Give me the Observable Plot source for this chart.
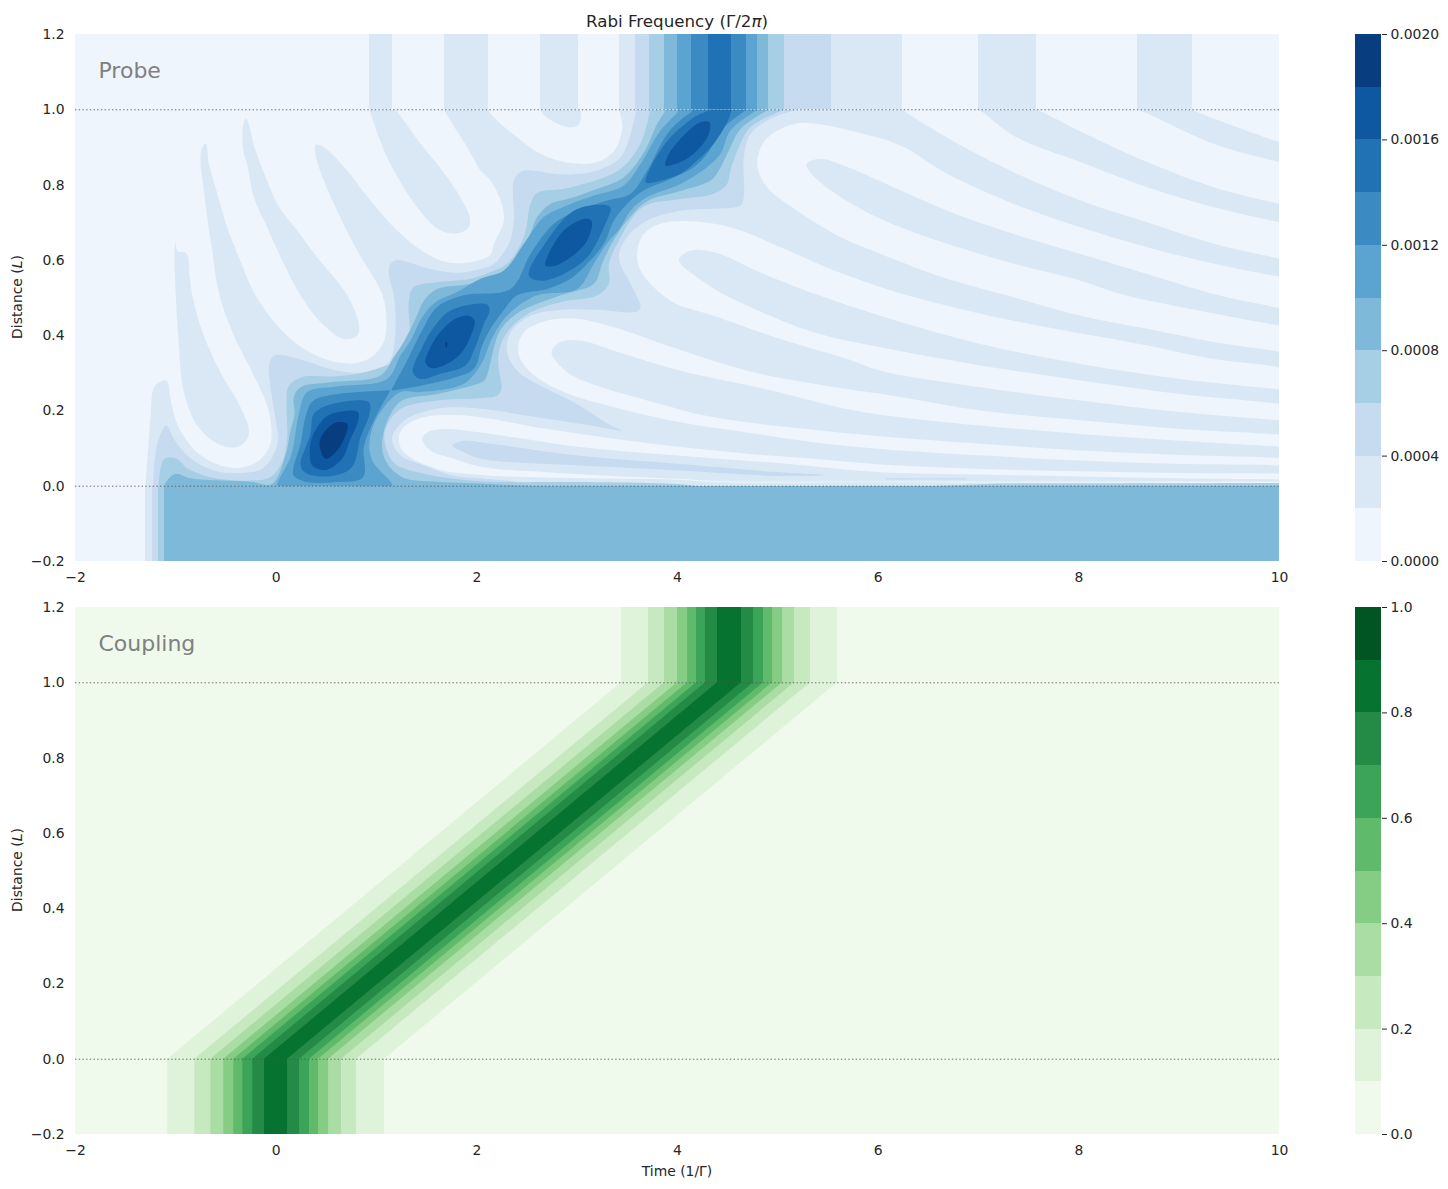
<!DOCTYPE html>
<html><head><meta charset="utf-8">
<script src="https://cdn.jsdelivr.net/npm/d3@7"></script>
<script src="https://cdn.jsdelivr.net/npm/@observablehq/plot@0.6"></script>
<style>
html,body{margin:0;padding:0;background:#fff;}
#fig{position:relative;width:1448px;height:1189px;overflow:hidden;font-family:"DejaVu Sans",sans-serif;color:#262626;}
#fig>div{position:absolute;}
.lab{white-space:nowrap;line-height:1;}
</style></head><body><div id="fig"></div>
<script>
const bluesBands=["#eef5fc","#dae8f5","#c6dbef","#a6cee4","#7fb9da","#5ba3d0","#3b8bc2","#2171b5","#0d58a1","#083d7f"];
const greensBands=["#eff9ec","#dff3da","#c7e9c0","#a9dda3","#85cc84","#60ba6c","#3ba458","#238b45","#077331","#005522"];
const timeTicks=[-2,0,2,4,6,8,10];
const distTicks=[-0.2,0,0.2,0.4,0.6,0.8,1,1.2];
const probeBarTicks=[0,0.0004,0.0008,0.0012,0.0016,0.002];
const couplingBarTicks=[0,0.2,0.4,0.6,0.8,1];
const probeTopEdges=[-2,.93,1.16,1.678,2.116,2.635,3.013,3.422,3.582,3.721,3.871,4.0,4.14,4.309,4.538,4.688,4.798,4.907,5.067,5.535,6.243,7.0,7.578,8.585,9.133,10];
const probeTopLevels=[0,1,0,1,0,1,0,1,2,3,4,5,6,7,6,5,4,3,2,1,0,1,0,1,0];
const probeBottomEdges=[-2,-1.302,-1.233,-1.173,-1.113,10];
const probeBottomLevels=[0,1,2,3,4];

const l1Main=[[-1.302,0],[-1.302,0],[-1.279,.09],[-1.253,.179],[-1.209,.266],[-1.093,.281],[-1.053,.232],[-.993,.17],[-.904,.126],[-.771,.086],[-.555,.055],[-.356,.049],[-.173,.068],[-.063,.108],[-.047,.152],[-.09,.214],[-.256,.312],[-.422,.4],[-.565,.507],[-.638,.626],[-.688,.715],[-.738,.821],[-.754,.856],[-.744,.894],[-.701,.911],[-.671,.856],[-.605,.794],[-.488,.688],[-.372,.608],[-.206,.507],[.01,.427],[.276,.365],[.608,.329],[.873,.332],[1.056,.374],[1.099,.427],[1.06,.507],[.807,.626],[.575,.75],[.425,.848],[.392,.883],[.395,.908],[.508,.894],[.707,.839],[.94,.759],[1.206,.679],[1.472,.622],[1.704,.595],[1.937,.595],[2.136,.615],[2.17,.644],[2.269,.706],[2.236,.759],[2.136,.812],[2.037,.839],[1.903,.901],[1.678,.998],[1.678,1],[1.678,1],[2.116,1],[2.116,1],[2.116,.998],[2.236,.963],[2.369,.934],[2.635,.883],[2.9,.86],[3.199,.861],[3.382,.896],[3.449,.954],[3.422,.998],[3.422,1],[3.422,1],[10.2,1],[10.2,1],[10.2,0],[10.2,0]];
const l1FingerA=[[-1.013,.617],[-1.003,.648],[-.985,.625],[-.894,.619],[-.862,.555],[-.83,.5],[-.721,.4],[-.555,.303],[-.372,.219],[-.273,.152],[-.289,.126],[-.389,.104],[-.588,.113],[-.787,.161],[-.92,.25],[-.97,.374],[-1,.507]];
const l1FingerC=[[-.306,.976],[-.336,.945],[-.322,.883],[-.289,.856],[-.223,.768],[-.09,.688],[.076,.591],[.242,.507],[.442,.436],[.674,.391],[.807,.4],[.827,.427],[.708,.507],[.408,.608],[.209,.679],[.01,.75],[-.09,.812],[-.206,.892],[-.289,.973]];
const l1Stripe=[[.93,1],[.93,1],[1.106,.874],[1.405,.741],[1.638,.679],[1.804,.672],[1.92,.688],[1.92,.723],[1.704,.821],[1.438,.91],[1.189,.998],[1.16,1],[1.16,1]];
const l1Tab=[[2.635,1],[2.635,1],[2.684,.982],[2.9,.954],[3.017,.961],[3.033,.998],[3.013,1],[3.013,1]];
const whiteTop=[[6.243,1],[6.243,1],[6.273,.994],[6.455,.963],[6.854,.901],[7.352,.834],[8.017,.759],[8.681,.701],[9.346,.644],[10,.604],[10.2,.59],[10.2,.59],[10.2,1],[10.2,1]];
const bandTwo=[[7.578,1],[7.578,1],[7.635,.994],[8.017,.942],[8.681,.861],[9.346,.794],[10,.75],[10.2,.74],[10.2,.74],[10.2,.69],[10.2,.69],[10,.701],[9.346,.741],[8.681,.794],[8.017,.861],[7.378,.927],[7.037,.994],[7,1],[7,1]];
const bandThree=[[9.133,1],[9.133,1],[9.179,.994],[10,.914],[10.2,.9],[10.2,.9],[10.2,.85],[10.2,.85],[10,.861],[9.346,.91],[8.648,.994],[8.585,1],[8.585,1]];
const lobeA=[[4.794,.856],[4.86,.914],[5.027,.949],[5.226,.965],[5.491,.958],[5.791,.94],[6.222,.905],[6.688,.83],[7.352,.75],[8.017,.688],[8.681,.635],[9.346,.591],[10,.557],[10.2,.55],[10.2,.55],[10.2,.35],[10.2,.35],[10,.358],[9.346,.383],[8.681,.418],[8.017,.453],[7.279,.507],[6.688,.551],[6.024,.617],[5.625,.662],[5.193,.732],[4.893,.794]];
const fingerA=[[5.286,.856],[5.425,.87],[5.691,.848],[6.222,.786],[6.688,.732],[7.352,.67],[8.017,.617],[8.681,.564],[9.395,.507],[10,.473],[10.2,.46],[10.2,.46],[10.2,.42],[10.2,.42],[10,.427],[9.013,.476],[8.465,.507],[8.017,.546],[7.352,.591],[6.688,.644],[6.222,.688],[5.857,.732],[5.525,.786],[5.309,.839]];
const lobeB=[[3.598,.622],[3.664,.67],[3.831,.697],[4.13,.704],[4.528,.688],[5.027,.635],[5.525,.577],[6.024,.529],[6.289,.507],[7.02,.458],[7.684,.422],[8.681,.374],[9.346,.338],[10,.316],[10.2,.3],[10.2,.3],[10.2,.17],[10.2,.17],[10,.175],[9.013,.197],[8.017,.228],[7.02,.263],[6.024,.307],[5.691,.338],[5.027,.391],[4.362,.453],[3.93,.493],[3.631,.573]];
const fingerB=[[4.013,.604],[4.13,.626],[4.362,.622],[4.86,.564],[5.409,.507],[6.222,.436],[7.02,.378],[8.017,.325],[9.013,.285],[10,.257],[10.2,.25],[10.2,.25],[10.2,.21],[10.2,.21],[10,.219],[9.013,.245],[8.017,.281],[7.02,.321],[6.024,.369],[5.359,.409],[4.478,.507],[4.196,.555],[4.03,.591]];
const lobeC=[[2.412,.356],[2.469,.409],[2.701,.44],[3,.445],[3.366,.422],[3.897,.374],[4.694,.307],[5.359,.272],[6.222,.237],[7.02,.201],[8.017,.175],[9.013,.152],[10,.137],[10.2,.13],[10.2,.13],[10.2,.05],[10.2,.05],[10,.055],[9.013,.059],[8.017,.068],[7.02,.082],[6.024,.099],[5.359,.117],[4.694,.143],[4.03,.17],[3.366,.21],[2.867,.25],[2.535,.303]];
const fingerC=[[2.744,.356],[2.834,.383],[3.033,.387],[3.366,.36],[4.03,.307],[4.861,.259],[5.691,.205],[6.024,.19],[7.02,.161],[8.017,.139],[9.013,.121],[10,.105],[10.2,.1],[10.2,.1],[10.2,.07],[10.2,.07],[10,.075],[9.013,.083],[8.017,.095],[7.02,.113],[6.024,.133],[5.359,.15],[4.362,.183],[3.698,.228],[3.199,.267],[2.9,.303]];
const lobeD=[[1.222,.126],[1.272,.157],[1.472,.183],[1.77,.189],[2.037,.183],[2.701,.152],[3.366,.126],[4.03,.104],[4.694,.086],[5.359,.073],[6.024,.058],[7.02,.046],[8.017,.04],[9.013,.035],[10,.033],[10.2,.03],[10.2,.03],[10.2,.008],[10.2,.008],[6.024,.0107],[4.362,.011],[3.997,.017],[3.033,.021],[2.037,.03],[1.604,.046],[1.272,.09]];
const fingerD=[[1.455,.126],[1.505,.143],[1.671,.152],[2.037,.143],[2.369,.13],[3.033,.104],[4.03,.081],[5.027,.061],[6.024,.037],[7.02,.031],[8.017,.026],[9.013,.021],[10,.018],[10.2,.017],[10.2,.017],[10.2,.0125],[10.2,.0125],[6.222,.0124],[4.362,.014],[3.997,.0195],[3.366,.027],[2.701,.037],[2.037,.052],[1.77,.073],[1.538,.095]];
const wedgeD=[[1.754,.108],[1.87,.121],[2.037,.117],[3.033,.081],[4.03,.059],[5.027,.037],[5.475,.03],[5.027,.027],[4.03,.042],[3.033,.055],[2.037,.073],[1.87,.09]];
const wedgeSliver=[[6.08,.021],[6.08,.021],[6.88,.021],[6.88,.021],[6.88,.018],[6.88,.018],[6.08,.018],[6.08,.018]];
const l2Main=[[-1.226,0],[-1.226,0],[-1.213,.064],[-1.17,.126],[-1.093,.161],[-1.02,.126],[-.904,.086],[-.771,.059],[-.555,.037],[-.356,.035],[-.156,.044],[-.047,.073],[.016,.117],[.01,.152],[-.023,.206],[-.067,.285],[-.073,.316],[-.05,.338],[.01,.349],[.276,.334],[.608,.307],[.873,.303],[1.123,.329],[1.189,.418],[1.172,.507],[1.123,.564],[1.139,.591],[1.206,.601],[1.538,.577],[1.804,.567],[2.036,.577],[2.17,.591],[2.319,.644],[2.369,.706],[2.369,.812],[2.452,.837],[2.867,.828],[3.199,.839],[3.432,.874],[3.532,.936],[3.582,.994],[3.582,1],[3.582,1],[5.19,1],[5.19,1],[4.927,.976],[4.728,.936],[4.661,.874],[4.661,.768],[4.628,.746],[4.362,.737],[4.03,.732],[3.698,.706],[3.498,.662],[3.415,.608],[3.532,.538],[3.615,.493],[3.631,.476],[3.598,.464],[3.199,.469],[2.867,.469],[2.535,.453],[2.336,.409],[2.302,.356],[2.402,.307],[2.635,.267],[2.967,.223],[3.365,.157],[3.449,.148],[3.033,.166],[2.535,.186],[2.037,.206],[1.604,.206],[1.272,.174],[1.155,.126],[1.239,.082],[1.472,.055],[1.77,.028],[2.037,.021],[2.469,.0107],[2.867,.0053],[3,0],[3,0]];
const l3Main=[[-1.173,0],[-1.173,0],[-1.153,.046],[-1.113,.073],[-.993,.073],[-.887,.048],[-.655,.024],[-.256,.015],[-.057,.024],[.06,.064],[.109,.126],[.103,.214],[.126,.267],[.276,.291],[.608,.292],[.94,.307],[1.305,.356],[1.322,.493],[1.372,.529],[1.605,.542],[1.937,.551],[2.136,.569],[2.302,.591],[2.469,.662],[2.535,.75],[2.601,.779],[2.867,.79],[3.133,.808],[3.432,.843],[3.631,.91],[3.721,.994],[3.721,1],[3.721,1],[5.067,1],[5.067,1],[4.96,.989],[4.728,.954],[4.611,.901],[4.528,.839],[4.495,.803],[4.362,.777],[4.03,.763],[3.698,.748],[3.581,.724],[3.399,.644],[3.316,.591],[3.316,.538],[3.199,.507],[2.834,.489],[2.535,.462],[2.302,.409],[2.219,.356],[2.219,.312],[2.246,.259],[2.203,.241],[2.037,.234],[1.604,.228],[1.239,.205],[1.089,.152],[1.089,.108],[1.189,.059],[1.472,.033],[1.77,.02],[2.136,.012],[3.033,.011],[4.03,.0053],[4.2,0],[4.2,0]];
const l3Floor=[[6.5,0],[6.5,0],[7.2,.007],[7.2,.007],[10.2,.009],[10.2,.009],[10.2,0],[10.2,0]];
const l4Main=[[-1.113,0],[-1.113,0],[-1.103,.009],[-1.003,.033],[-.854,.021],[-.555,.015],[-.256,.012],[-.04,.006],[.093,.082],[.143,.148],[.183,.192],[.176,.237],[.243,.263],[.541,.276],[1.04,.294],[1.173,.343],[1.279,.387],[1.389,.445],[1.472,.493],[1.605,.524],[1.937,.538],[2.136,.56],[2.369,.577],[2.502,.644],[2.601,.715],[2.734,.75],[2.934,.765],[3.166,.787],[3.465,.821],[3.665,.887],[3.798,.963],[3.87,.995],[3.871,1],[3.871,1],[4.907,1],[4.907,1],[4.628,.949],[4.512,.892],[4.412,.839],[4.329,.812],[4.03,.784],[3.698,.757],[3.498,.706],[3.342,.644],[3.249,.591],[3.166,.538],[2.834,.507],[2.419,.462],[2.243,.418],[2.176,.374],[2.136,.329],[2.087,.285],[2.037,.275],[1.604,.245],[1.256,.228],[1.123,.183],[1.056,.117],[1.09,.068],[1.256,.024],[1.604,.012],[2.136,.006],[2.6,0],[2.6,0]];
const l5Main=[[.01,0],[.01,0],[.01,.006],[.143,.077],[.176,.112],[.226,.192],[.309,.25],[.608,.265],[1.106,.285],[1.239,.347],[1.339,.387],[1.455,.449],[1.588,.489],[1.804,.516],[2.037,.551],[2.269,.573],[2.469,.644],[2.668,.715],[2.9,.746],[3.166,.772],[3.465,.799],[3.631,.856],[3.831,.945],[4,.995],[4,1],[4,1],[4.798,1],[4.798,1],[4.528,.945],[4.429,.883],[4.296,.848],[4.03,.803],[3.698,.768],[3.532,.732],[3.432,.688],[3.295,.644],[3.166,.591],[3,.524],[2.601,.507],[2.336,.462],[2.203,.418],[2.12,.374],[2.053,.329],[1.87,.272],[1.439,.25],[1.239,.25],[1.007,.183],[.93,.117],[.957,.068],[1.156,.006],[1.156,0],[1.156,0]];
const l6Lower=[[.17,.046],[.243,.113],[.292,.183],[.375,.228],[1.139,.254],[1.139,.254],[.973,.174],[.874,.104],[.867,.024],[.608,.011],[.309,.011],[.176,.028]];
const l6Upper=[[1.15,.257],[1.15,.257],[1.306,.334],[1.455,.414],[1.605,.476],[1.87,.507],[2.336,.524],[2.535,.617],[2.767,.697],[3,.732],[3.299,.759],[3.532,.777],[3.698,.839],[3.897,.936],[4.063,.98],[4.14,.995],[4.14,1],[4.14,1],[4.688,1],[4.688,1],[4.429,.945],[4.296,.883],[4.163,.848],[3.897,.812],[3.665,.786],[3.498,.75],[3.366,.706],[3.266,.644],[3.1,.591],[2.934,.551],[2.701,.524],[2.402,.507],[2.253,.462],[2.136,.418],[2.053,.374],[1.97,.312],[1.771,.288],[1.439,.267],[1.156,.254],[1.156,.254]];
const l7Lower=[[.243,.055],[.342,.139],[.375,.192],[.541,.217],[.924,.223],[.93,.192],[.84,.13],[.757,.051],[.575,.028],[.309,.033]];
const l7Blob1=[[1.362,.303],[1.455,.369],[1.572,.422],[1.738,.467],[2.103,.483],[2.126,.467],[2.07,.431],[1.97,.36],[1.887,.321],[1.638,.299],[1.439,.285]];
const l7Blob2=[[2.518,.56],[2.701,.653],[2.967,.732],[3.233,.748],[3.332,.741],[3.266,.688],[3.1,.608],[2.867,.564],[2.635,.546]];
const l7Blob3=[[3.681,.808],[3.731,.847],[3.93,.927],[4.196,.985],[4.309,.998],[4.309,1],[4.309,1],[4.538,1],[4.538,1],[4.512,.976],[4.362,.91],[4.196,.865],[4.03,.83],[3.698,.805]];
const l8Lower=[[.336,.077],[.359,.13],[.492,.183],[.625,.197],[.814,.197],[.814,.17],[.741,.126],[.658,.073],[.492,.043],[.359,.055]];
const l8Blob1=[[1.488,.329],[1.522,.36],[1.621,.405],[1.787,.445],[1.92,.453],[1.977,.44],[1.92,.387],[1.821,.347],[1.671,.321],[1.538,.314]];
const l8Blob2=[[2.684,.586],[2.701,.608],[2.867,.679],[3.067,.71],[3.143,.706],[3.1,.653],[2.934,.608],[2.784,.586]];
const l8Blob3=[[3.881,.852],[3.897,.874],[4.03,.923],[4.229,.967],[4.319,.967],[4.312,.936],[4.196,.892],[4.03,.861]];
const l9Lower=[[.435,.104],[.442,.126],[.525,.157],[.608,.17],[.708,.166],[.691,.135],[.608,.095],[.492,.073]];
const l9Speck=[[1.688,.369],[1.688,.369],[1.688,.383],[1.688,.383],[1.704,.383],[1.704,.383],[1.704,.369],[1.704,.369]];

const probeLayers=[[1,l1Main],[1,l1FingerA],[1,l1FingerC],[1,l1Stripe],[1,l1Tab],[0,whiteTop],[1,bandTwo],[1,bandThree],[0,lobeA],[1,fingerA],[0,lobeB],[1,fingerB],[0,lobeC],[1,fingerC],[0,lobeD],[1,fingerD],[2,wedgeD],[2,wedgeSliver],[2,l2Main],[3,l3Main],[3,l3Floor],[4,l4Main],[5,l5Main],[6,l6Lower],[6,l6Upper],[7,l7Lower],[7,l7Blob1],[7,l7Blob2],[7,l7Blob3],[8,l8Lower],[8,l8Blob1],[8,l8Blob2],[8,l8Blob3],[9,l9Lower],[9,l9Speck]];

const couplingBottomLeft=[-1.08,-.811,-.651,-.522,-.422,-.332,-.233,-.116];
const couplingBottomRight=[1.08,.801,.651,.522,.422,.332,.233,.113];
const couplingTopLeft=[3.442,3.711,3.871,4.0,4.1,4.19,4.279,4.399];
const couplingTopRight=[5.595,5.326,5.166,5.047,4.947,4.857,4.758,4.638];
const couplingD=[-.2,0,1,1.2];

const fontFamily='"DejaVu Sans",sans-serif';
const tickSize=13.9;
const fig=document.getElementById("fig");
const place=(node,left,top)=>{const d=document.createElement("div");d.style.left=left+"px";d.style.top=top+"px";d.appendChild(node);fig.appendChild(d);};
const num1=d=>d.toFixed(1).replace("-","\u2212");
const numT=d=>String(d).replace("-","\u2212");
const svgStyle={fontFamily,fontSize:tickSize+"px",color:"#262626",background:"transparent",overflow:"visible"};

function mainPanel(marks,bands,label){
  return Plot.plot({width:1448,height:595,marginLeft:75,marginRight:169,marginTop:34,marginBottom:34,style:svgStyle,
    x:{domain:[-2,10]},y:{domain:[-.2,1.2]},color:{type:"ordinal",domain:d3.range(10),range:bands},
    marks:[
      Plot.rect([{l:0}],{x1:()=>-2,x2:()=>10,y1:()=>-.2,y2:()=>1.2,fill:"l"}),
      ...marks,
      Plot.ruleY([0,1],{stroke:"#555",strokeWidth:1,strokeDasharray:"1.4,2.3",strokeOpacity:.85}),
      Plot.text([label],{x:()=>-1.771,y:()=>1.104,text:d=>d,textAnchor:"start",fontSize:22,fill:"#808080"}),
      Plot.axisX({ticks:timeTicks,tickSize:0,tickPadding:11,tickFormat:numT,label:null,fontSize:tickSize,fill:"#262626"}),
      Plot.axisY({ticks:distTicks,tickSize:0,tickPadding:11,tickFormat:num1,label:null,fontSize:tickSize,fill:"#262626"})
    ]});
}
function colorbar(bands,top,ticks,fmt){
  const cells=bands.map((_,i)=>({l:i,a:top*i/10,b:top*(i+1)/10}));
  return Plot.plot({width:108,height:595,marginLeft:15,marginRight:67,marginTop:34,marginBottom:34,style:svgStyle,
    x:{domain:[0,1],axis:null},y:{domain:[0,top]},color:{type:"ordinal",domain:d3.range(10),range:bands},
    marks:[
      Plot.rect(cells,{x1:()=>0,x2:()=>1,y1:"a",y2:"b",fill:"l",shapeRendering:"crispEdges"}),
      Plot.axisY({anchor:"right",ticks,tickSize:5,tickPadding:4,tickFormat:fmt,label:null,fontSize:tickSize,stroke:"#262626",fill:"#262626"})
    ]});
}
const stripes=(edges,levels,d1,d2)=>levels.map((l,i)=>({t1:edges[i],t2:edges[i+1],d1,d2,l}));
const probeRows=probeLayers.flatMap(([l,pts],i)=>pts.map(([t,d])=>({t,d,l,id:i})));
const probeStripes=[...stripes(probeBottomEdges,probeBottomLevels,-.2,0),...stripes(probeTopEdges,probeTopLevels,1,1.2)];
const probeMarks=[
  Plot.line(probeRows,{x:"t",y:"d",z:"id",fill:"l",stroke:"none",curve:"catmull-rom-closed",clip:true}),
  Plot.rect(probeStripes,{x1:"t1",x2:"t2",y1:"d1",y2:"d2",fill:"l",shapeRendering:"crispEdges"})
];
place(mainPanel(probeMarks,bluesBands,"Probe"),0,0);
place(colorbar(bluesBands,.002,probeBarTicks,d=>d.toFixed(4)),1340,0);

const couplingRows=couplingBottomLeft.flatMap((_,i)=>couplingD.map((d,j)=>({d,l:i+1,
  t1:j<2?couplingBottomLeft[i]:couplingTopLeft[i],t2:j<2?couplingBottomRight[i]:couplingTopRight[i]})));
const couplingMarks=[Plot.areaX(couplingRows,{x1:"t1",x2:"t2",y:"d",z:"l",fill:"l",stroke:"none"})];
place(mainPanel(couplingMarks,greensBands,"Coupling"),0,573);
place(colorbar(greensBands,1,couplingBarTicks,d=>d.toFixed(1)),1340,573);

function label(html,cx,cy,size,rot){
  const d=document.createElement("div");d.className="lab";d.innerHTML=html;
  d.style.left=cx+"px";d.style.top=cy+"px";d.style.fontSize=size+"px";
  d.style.transform="translate(-50%,-50%)"+(rot?" rotate(-90deg)":"");fig.appendChild(d);
}
label('Rabi Frequency (\u0393/2<i>\u03c0</i>)',677,21,16.7);
label('Time (1/\u0393)',677,1172,13.9);
label('Distance (<i>L</i>)',18,297,13.9,true);
label('Distance (<i>L</i>)',18,870,13.9,true);
</script></body></html>
